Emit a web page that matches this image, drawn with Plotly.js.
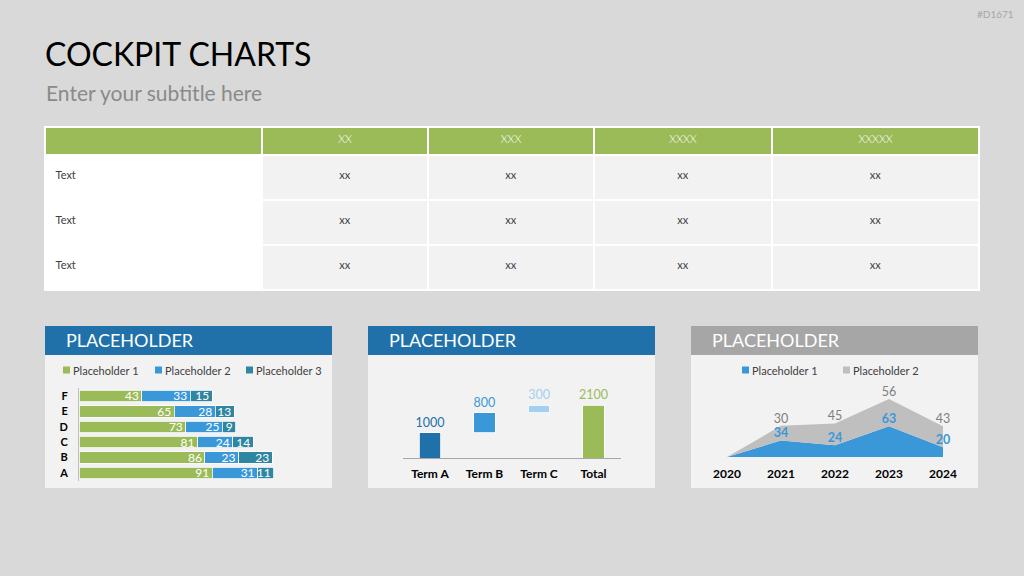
<!DOCTYPE html>
<html><head><meta charset="utf-8">
<script src="https://cdn.plot.ly/plotly-3.0.1.min.js"></script>
<style>html,body{margin:0;padding:0;background:#d9d9d9;}#chart{width:1024px;height:576px;}</style>
</head><body><div id="chart"></div>
<script>
// ---------- data ----------
const tableHeader = ['', 'XX', 'XXX', 'XXXX', 'XXXXX'];
const tableRowLabels = ['Text', 'Text', 'Text'];
const tableCol1 = ['xx', 'xx', 'xx'];
const tableCol2 = ['xx', 'xx', 'xx'];
const tableCol3 = ['xx', 'xx', 'xx'];
const tableCol4 = ['xx', 'xx', 'xx'];

const barCategories = ['A', 'B', 'C', 'D', 'E', 'F'];
const barSeriesNames = ['Placeholder 1', 'Placeholder 2', 'Placeholder 3'];
const barP1 = [91, 86, 81, 73, 65, 43];
const barP2 = [31, 23, 24, 25, 28, 33];
const barP3 = [11, 23, 14, 9, 13, 15];

const wfCategories = ['Term A', 'Term B', 'Term C', 'Total'];
const wfValues = [1000, 800, 300, 2100];
const wfIsTotal = [false, false, false, true];

const areaYears = [2020, 2021, 2022, 2023, 2024];
const areaSeriesNames = ['Placeholder 1', 'Placeholder 2'];
const areaP1 = [0, 34, 24, 63, 20];
const areaP2 = [0, 30, 45, 56, 43];

const panelTitles = ['PLACEHOLDER', 'PLACEHOLDER', 'PLACEHOLDER'];

// ---------- styles ----------
const W = 1024, H = 576;
const X = p => p / W;
const Y = p => 1 - p / H;
const FONT = 'Lato, "Open Sans", sans-serif';
const GREEN = '#9bbb59', BLUE = '#3a98d8', DARKBLUE = '#2071aa', TEAL = '#2e86a0', LIGHTBLUE = '#a3d0ef', GRAY = '#bfbfbf';
const barColors = [GREEN, BLUE, TEAL];
const wfColors = [DARKBLUE, BLUE, LIGHTBLUE, GREEN];
const areaColors = [BLUE, GRAY];

// waterfall bases from data
const wfBase = [];
let running = 0;
wfValues.forEach((v, i) => {
  if (wfIsTotal[i]) { wfBase.push(0); }
  else { wfBase.push(running); running += v; }
});

// cell text: a small spacer line above so the 11px text sits mid-row
const cellText = (arr, indent) => arr.map(v => '&nbsp;<br><span style="font-size:11px">' + (indent ? '&nbsp;' : '') + v + '</span>');

const traces = [];

// table
traces.push({
  type: 'table',
  domain: {x: [X(45), X(979)], y: [Y(292), Y(127)]},
  columnwidth: [217, 166, 166, 178, 207],
  header: {
    values: tableHeader,
    align: 'center',
    height: 28,
    fill: {color: GREEN},
    line: {color: '#ffffff', width: 2},
    font: {family: FONT, size: 11, color: '#ffffff', weight: 300}
  },
  cells: {
    values: [cellText(tableRowLabels, true), cellText(tableCol1), cellText(tableCol2), cellText(tableCol3), cellText(tableCol4)],
    align: ['left', 'center', 'center', 'center', 'center'],
    height: 45,
    fill: {color: ['#ffffff', '#f2f2f2', '#f2f2f2', '#f2f2f2', '#f2f2f2']},
    line: {color: '#ffffff', width: 2},
    font: {family: FONT, size: 7, color: '#404040'}
  }
});

// stacked bars
[barP1, barP2, barP3].forEach((vals, i) => {
  traces.push({
    type: 'bar', orientation: 'h', name: barSeriesNames[i],
    x: vals, y: barCategories, xaxis: 'x', yaxis: 'y',
    marker: {color: barColors[i], line: {color: '#ffffff', width: 0.8}},
    text: vals.map(String), textposition: 'inside', insidetextanchor: 'end',
    constraintext: 'none', textangle: 0,
    insidetextfont: {family: FONT, size: 12, color: '#ffffff'},
    showlegend: false, hoverinfo: 'skip'
  });
});

// waterfall bars
traces.push({
  type: 'bar', x: wfCategories, y: wfValues, base: wfBase,
  xaxis: 'x2', yaxis: 'y2', width: 0.4,
  marker: {color: wfColors, line: {color: '#ffffff', width: 0.8}},
  text: wfValues.map(String), textposition: 'outside', cliponaxis: false, constraintext: 'none',
  outsidetextfont: {family: FONT, size: 12.5, color: wfColors},
  showlegend: false, hoverinfo: 'skip'
});

// stacked area
[areaP1, areaP2].forEach((vals, i) => {
  traces.push({
    type: 'scatter', mode: 'lines+text', name: areaSeriesNames[i],
    x: areaYears, y: vals, stackgroup: 'one', xaxis: 'x3', yaxis: 'y3',
    line: {width: 0, color: areaColors[i]}, fillcolor: areaColors[i],
    text: vals.map(v => v === 0 ? '' : String(v)), textposition: 'top center',
    textfont: i === 0 ? {family: FONT, size: 12.5, color: BLUE, weight: 'bold'}
                      : {family: FONT, size: 12.5, color: '#7f7f7f'},
    cliponaxis: false, showlegend: false, hoverinfo: 'skip'
  });
});

// ---------- decorations ----------
const panels = [
  {x0: 45, x1: 332, head: DARKBLUE},
  {x0: 368, x1: 655, head: DARKBLUE},
  {x0: 691, x1: 978, head: '#a6a6a6'}
];
const shapes = [];
const annotations = [];
panels.forEach((p, i) => {
  shapes.push({type: 'rect', xref: 'paper', yref: 'paper', x0: X(p.x0), x1: X(p.x1), y0: Y(488), y1: Y(355), fillcolor: '#f2f2f2', line: {width: 0}, layer: 'below'});
  shapes.push({type: 'rect', xref: 'paper', yref: 'paper', x0: X(p.x0), x1: X(p.x1), y0: Y(355), y1: Y(326), fillcolor: p.head, line: {width: 0}, layer: 'below'});
  annotations.push({xref: 'paper', yref: 'paper', x: X(p.x0 + 19), y: Y(340), xanchor: 'left', yanchor: 'middle', showarrow: false,
    text: panelTitles[i], font: {family: FONT, size: 18, color: '#ffffff'}});
});

function legend(names, colors, starts) {
  names.forEach((n, i) => {
    const s = starts[i];
    shapes.push({type: 'rect', xref: 'paper', yref: 'paper', x0: X(s), x1: X(s + 7), y0: Y(373.5), y1: Y(366.5), fillcolor: colors[i], line: {width: 0}});
    annotations.push({xref: 'paper', yref: 'paper', x: X(s + 8), y: Y(370), xanchor: 'left', yanchor: 'middle', showarrow: false,
      text: n, font: {family: FONT, size: 11, color: '#404040'}});
  });
}
legend(barSeriesNames, barColors, [63, 155, 246]);
legend(areaSeriesNames, areaColors, [742, 843]);

annotations.push({xref: 'paper', yref: 'paper', x: X(44), y: Y(92), xanchor: 'left', yanchor: 'middle', showarrow: false,
  text: 'Enter your subtitle here', font: {family: FONT, size: 21, color: '#8a8a8a'}});
annotations.push({xref: 'paper', yref: 'paper', x: X(1016), y: Y(14), xanchor: 'right', yanchor: 'middle', showarrow: false,
  text: '#D1671', font: {family: FONT, size: 10, color: '#a6a6a6'}});

const tickBold = {family: FONT, size: 12, color: '#000000', weight: 'bold'};

const layout = {
  width: W, height: H,
  margin: {l: 0, r: 0, t: 0, b: 0},
  paper_bgcolor: '#d9d9d9', plot_bgcolor: 'rgba(0,0,0,0)',
  font: {family: FONT},
  title: {text: 'COCKPIT CHARTS', x: X(45), xanchor: 'left', xref: 'paper', y: Y(55), yref: 'container', yanchor: 'middle',
    font: {family: FONT, size: 32, color: '#000000'}},
  barmode: 'stack', bargap: 0.25,
  hovermode: false,
  xaxis: {domain: [X(79), X(322)], range: [0, 166], showgrid: false, zeroline: false, showticklabels: false, fixedrange: true},
  yaxis: {domain: [Y(480.7), Y(388.3)], type: 'category', categoryorder: 'array', categoryarray: barCategories,
    showline: true, linecolor: '#bfbfbf', linewidth: 1, showgrid: false, zeroline: false, ticks: '',
    tickfont: {family: FONT, size: 11, color: '#000000', weight: 'bold'}, ticklabelstandoff: 8, anchor: 'x'},
  xaxis2: {domain: [X(402.7), X(620.8)], type: 'category', anchor: 'y2', showline: true, linecolor: '#a6a6a6', linewidth: 1,
    showgrid: false, zeroline: false, ticks: '', tickfont: tickBold, ticklabelstandoff: 5},
  yaxis2: {domain: [Y(458), Y(385)], range: [0, 2900], anchor: 'x2', visible: false, showgrid: false, zeroline: false},
  xaxis3: {domain: [X(700), X(970)], range: [2019.5, 2024.5], anchor: 'y3', tickvals: areaYears, tickformat: 'd',
    showline: false, showgrid: false, zeroline: false, ticks: '', tickfont: tickBold, ticklabelstandoff: 8},
  yaxis3: {domain: [Y(457), Y(388.8)], range: [0, 140], anchor: 'x3', visible: false, showgrid: false, zeroline: false},
  shapes: shapes,
  annotations: annotations
};

Plotly.newPlot('chart', traces, layout, {staticPlot: true, displayModeBar: false});
</script>
</body></html>
